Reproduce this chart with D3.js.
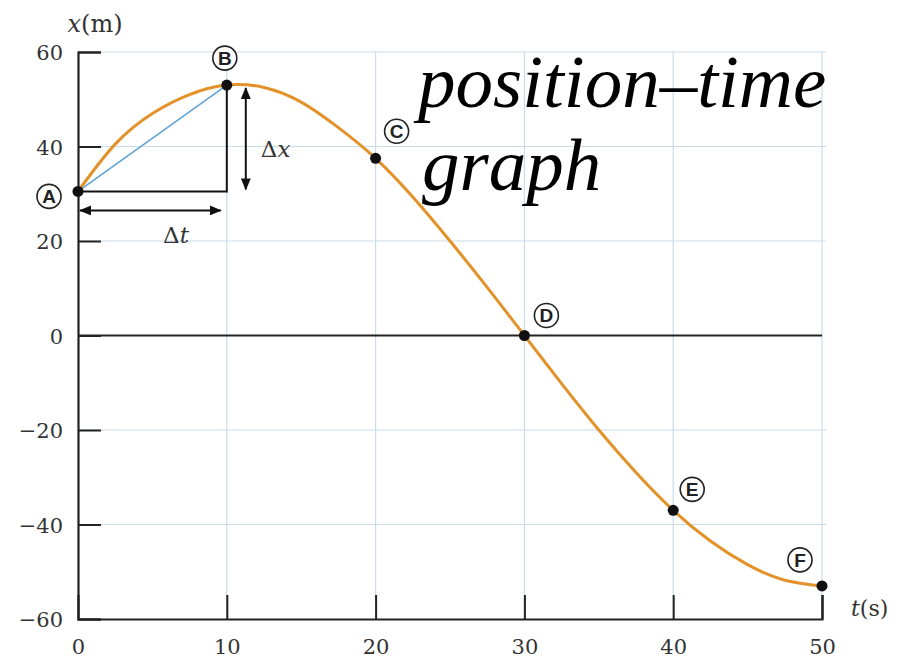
<!DOCTYPE html>
<html><head>
<meta charset="utf-8">
<script src="https://d3js.org/d3.v7.min.js"></script>
<style>
  body { margin: 0; background: #fff; }
  .tick-label { font-family: "DejaVu Serif", serif; font-size: 21px; fill: #333; }
</style>
</head>
<body>
<svg id="chart" width="902" height="661"></svg>
<script>
// values
const curveT = [0, 2.5, 5, 7.5, 10, 12.5, 15, 17.5, 20, 22.5, 25, 27.5, 30, 32.5, 35, 37.5, 40, 42.5, 45, 47.5, 50];
const curveX = [30.5, 40.5, 47, 51, 53, 52.5, 49.4, 44, 37.5, 29.3, 20, 10.2, 0, -10.2, -20, -29, -37, -43.5, -48.5, -51.8, -53];

const pointNames = ["A", "B", "C", "D", "E", "F"];
const pointT = [0, 10, 20, 30, 40, 50];
const pointX = [30.5, 53, 37.5, 0, -37, -53];

const tTicks = [0, 10, 20, 30, 40, 50];
const xTicks = [-60, -40, -20, 0, 20, 40, 60];

// label offset from each dot (px)
const labelOffsets = [[-29, 5], [-2, -27], [21, -27], [22, -20], [19, -21], [-22, -26]];

let svg = d3.select("svg#chart");
let margin = { top: 52, right: 80, bottom: 42, left: 78 };
let width = +svg.attr("width");
let height = +svg.attr("height");

const tScale = d3.scaleLinear().domain([0, 50]).range([margin.left, width - margin.right]);
const xScale = d3.scaleLinear().domain([-60, 60]).range([height - margin.bottom, margin.top]);

const gridColor = "#c9dcea";

// grid lines
svg.append("g").selectAll("line.v")
  .data(tTicks.filter(d => d > 0))
  .join("line")
  .attr("x1", d => tScale(d)).attr("x2", d => tScale(d))
  .attr("y1", xScale(60)).attr("y2", xScale(-60))
  .attr("stroke", gridColor).attr("stroke-width", 1.2);

svg.append("g").selectAll("line.h")
  .data(xTicks.filter(d => d !== 0 && d !== -60))
  .join("line")
  .attr("x1", tScale(0)).attr("x2", tScale(50) + 4)
  .attr("y1", d => xScale(d)).attr("y2", d => xScale(d))
  .attr("stroke", gridColor).attr("stroke-width", 1.2);

// zero line
svg.append("line")
  .attr("x1", tScale(0)).attr("x2", tScale(50))
  .attr("y1", xScale(0)).attr("y2", xScale(0))
  .attr("stroke", "#222").attr("stroke-width", 2);

// y axis (ticks pointing inside)
let leftAxis = d3.axisLeft(xScale).tickValues(xTicks).tickSize(-23).tickPadding(15)
  .tickFormat(d => d < 0 ? "\u2212" + Math.abs(d) : d);
let yAxisG = svg.append("g")
  .attr("transform", "translate(" + tScale(0) + ",0)")
  .call(leftAxis);

// x axis (ticks pointing up)
let bottomAxis = d3.axisBottom(tScale).tickValues(tTicks).tickSize(-24).tickPadding(35);
let xAxisG = svg.append("g")
  .attr("transform", "translate(0," + xScale(-60) + ")")
  .call(bottomAxis);

[yAxisG, xAxisG].forEach(g => {
  g.select(".domain").attr("stroke", "#222").attr("stroke-width", 2.2);
  g.selectAll(".tick line").attr("stroke", "#222").attr("stroke-width", 2);
  g.selectAll(".tick text").attr("class", "tick-label").attr("font-size", null).attr("font-family", null);
});
yAxisG.selectAll(".tick text").attr("dy", "0.36em");
xAxisG.selectAll(".tick text").attr("dy", "0");
xAxisG.selectAll(".tick").filter(d => d === 0).select("line").remove();

// axis titles
svg.append("text")
  .attr("x", 95).attr("y", 32)
  .attr("text-anchor", "middle")
  .attr("font-family", "DejaVu Serif, serif").attr("font-size", 24).attr("fill", "#333")
  .html('<tspan font-style="italic">x</tspan>(m)');

svg.append("text")
  .attr("x", 851).attr("y", 616)
  .attr("font-family", "DejaVu Serif, serif").attr("font-size", 22).attr("fill", "#333")
  .html('<tspan font-style="italic">t</tspan>(s)');

// delta triangle
const xA = pointX[0], xB = pointX[1];
svg.append("path")
  .attr("d", "M" + tScale(0) + "," + xScale(xA) + "H" + tScale(10) + "V" + xScale(xB))
  .attr("fill", "none").attr("stroke", "#111").attr("stroke-width", 2);

svg.append("line")
  .attr("x1", tScale(0)).attr("y1", xScale(xA))
  .attr("x2", tScale(10)).attr("y2", xScale(xB))
  .attr("stroke", "#5fa3d6").attr("stroke-width", 1.6);

// arrowheads
let defs = svg.append("defs");
defs.append("marker")
  .attr("id", "arr").attr("viewBox", "0 0 12 10")
  .attr("refX", 11).attr("refY", 5)
  .attr("markerWidth", 12).attr("markerHeight", 10)
  .attr("markerUnits", "userSpaceOnUse")
  .attr("orient", "auto-start-reverse")
  .append("path").attr("d", "M0,0 L12,5 L0,10 Z").attr("fill", "#111");

svg.append("line")
  .attr("x1", tScale(0) + 2).attr("x2", tScale(10) - 6)
  .attr("y1", xScale(xA) + 19).attr("y2", xScale(xA) + 19)
  .attr("stroke", "#111").attr("stroke-width", 2)
  .attr("marker-start", "url(#arr)").attr("marker-end", "url(#arr)");

svg.append("line")
  .attr("x1", tScale(10) + 19).attr("x2", tScale(10) + 19)
  .attr("y1", xScale(xB) + 3).attr("y2", xScale(xA) - 2)
  .attr("stroke", "#111").attr("stroke-width", 2)
  .attr("marker-start", "url(#arr)").attr("marker-end", "url(#arr)");

svg.append("text")
  .attr("x", 176).attr("y", xScale(xA) + 52)
  .attr("text-anchor", "middle")
  .attr("font-family", "DejaVu Serif, serif").attr("font-size", 23).attr("fill", "#333")
  .html('\u0394<tspan font-style="italic">t</tspan>');

svg.append("text")
  .attr("x", tScale(10) + 34).attr("y", (xScale(xA) + xScale(xB)) / 2 + 19)
  .attr("font-family", "DejaVu Serif, serif").attr("font-size", 23).attr("fill", "#333")
  .html('\u0394<tspan font-style="italic">x</tspan>');

// position curve
let curveData = curveT.map((t, i) => ({ t: t, x: curveX[i] }));
let line = d3.line()
  .x(d => tScale(d.t)).y(d => xScale(d.x))
  .curve(d3.curveNatural);
svg.append("path")
  .datum(curveData)
  .attr("d", line)
  .attr("fill", "none").attr("stroke", "#e39229").attr("stroke-width", 3);

// points
let pts = pointNames.map((n, i) => ({ name: n, t: pointT[i], x: pointX[i], off: labelOffsets[i] }));
svg.append("g").selectAll("circle")
  .data(pts).join("circle")
  .attr("cx", d => tScale(d.t)).attr("cy", d => xScale(d.x))
  .attr("r", 5.5).attr("fill", "#111");

let lab = svg.append("g").selectAll("g")
  .data(pts).join("g")
  .attr("transform", d => "translate(" + (tScale(d.t) + d.off[0]) + "," + (xScale(d.x) + d.off[1]) + ")");
lab.append("circle").attr("r", 12)
  .attr("fill", "#fff").attr("stroke", "#222").attr("stroke-width", 1.6);
lab.append("text")
  .attr("text-anchor", "middle").attr("dy", "0.36em")
  .attr("font-family", "Liberation Sans, Arial, sans-serif").attr("font-size", 19).attr("font-weight", "bold")
  .attr("fill", "#222")
  .text(d => d.name);

// big caption
let cap = svg.append("text")
  .attr("font-family", "Liberation Serif, Times New Roman, serif")
  .attr("font-style", "italic").attr("font-size", 75).attr("fill", "#000");
cap.append("tspan").attr("x", 418).attr("y", 107).text("position\u2013time");
cap.append("tspan").attr("x", 422).attr("y", 190).text("graph");
</script>
</body>
</html>
